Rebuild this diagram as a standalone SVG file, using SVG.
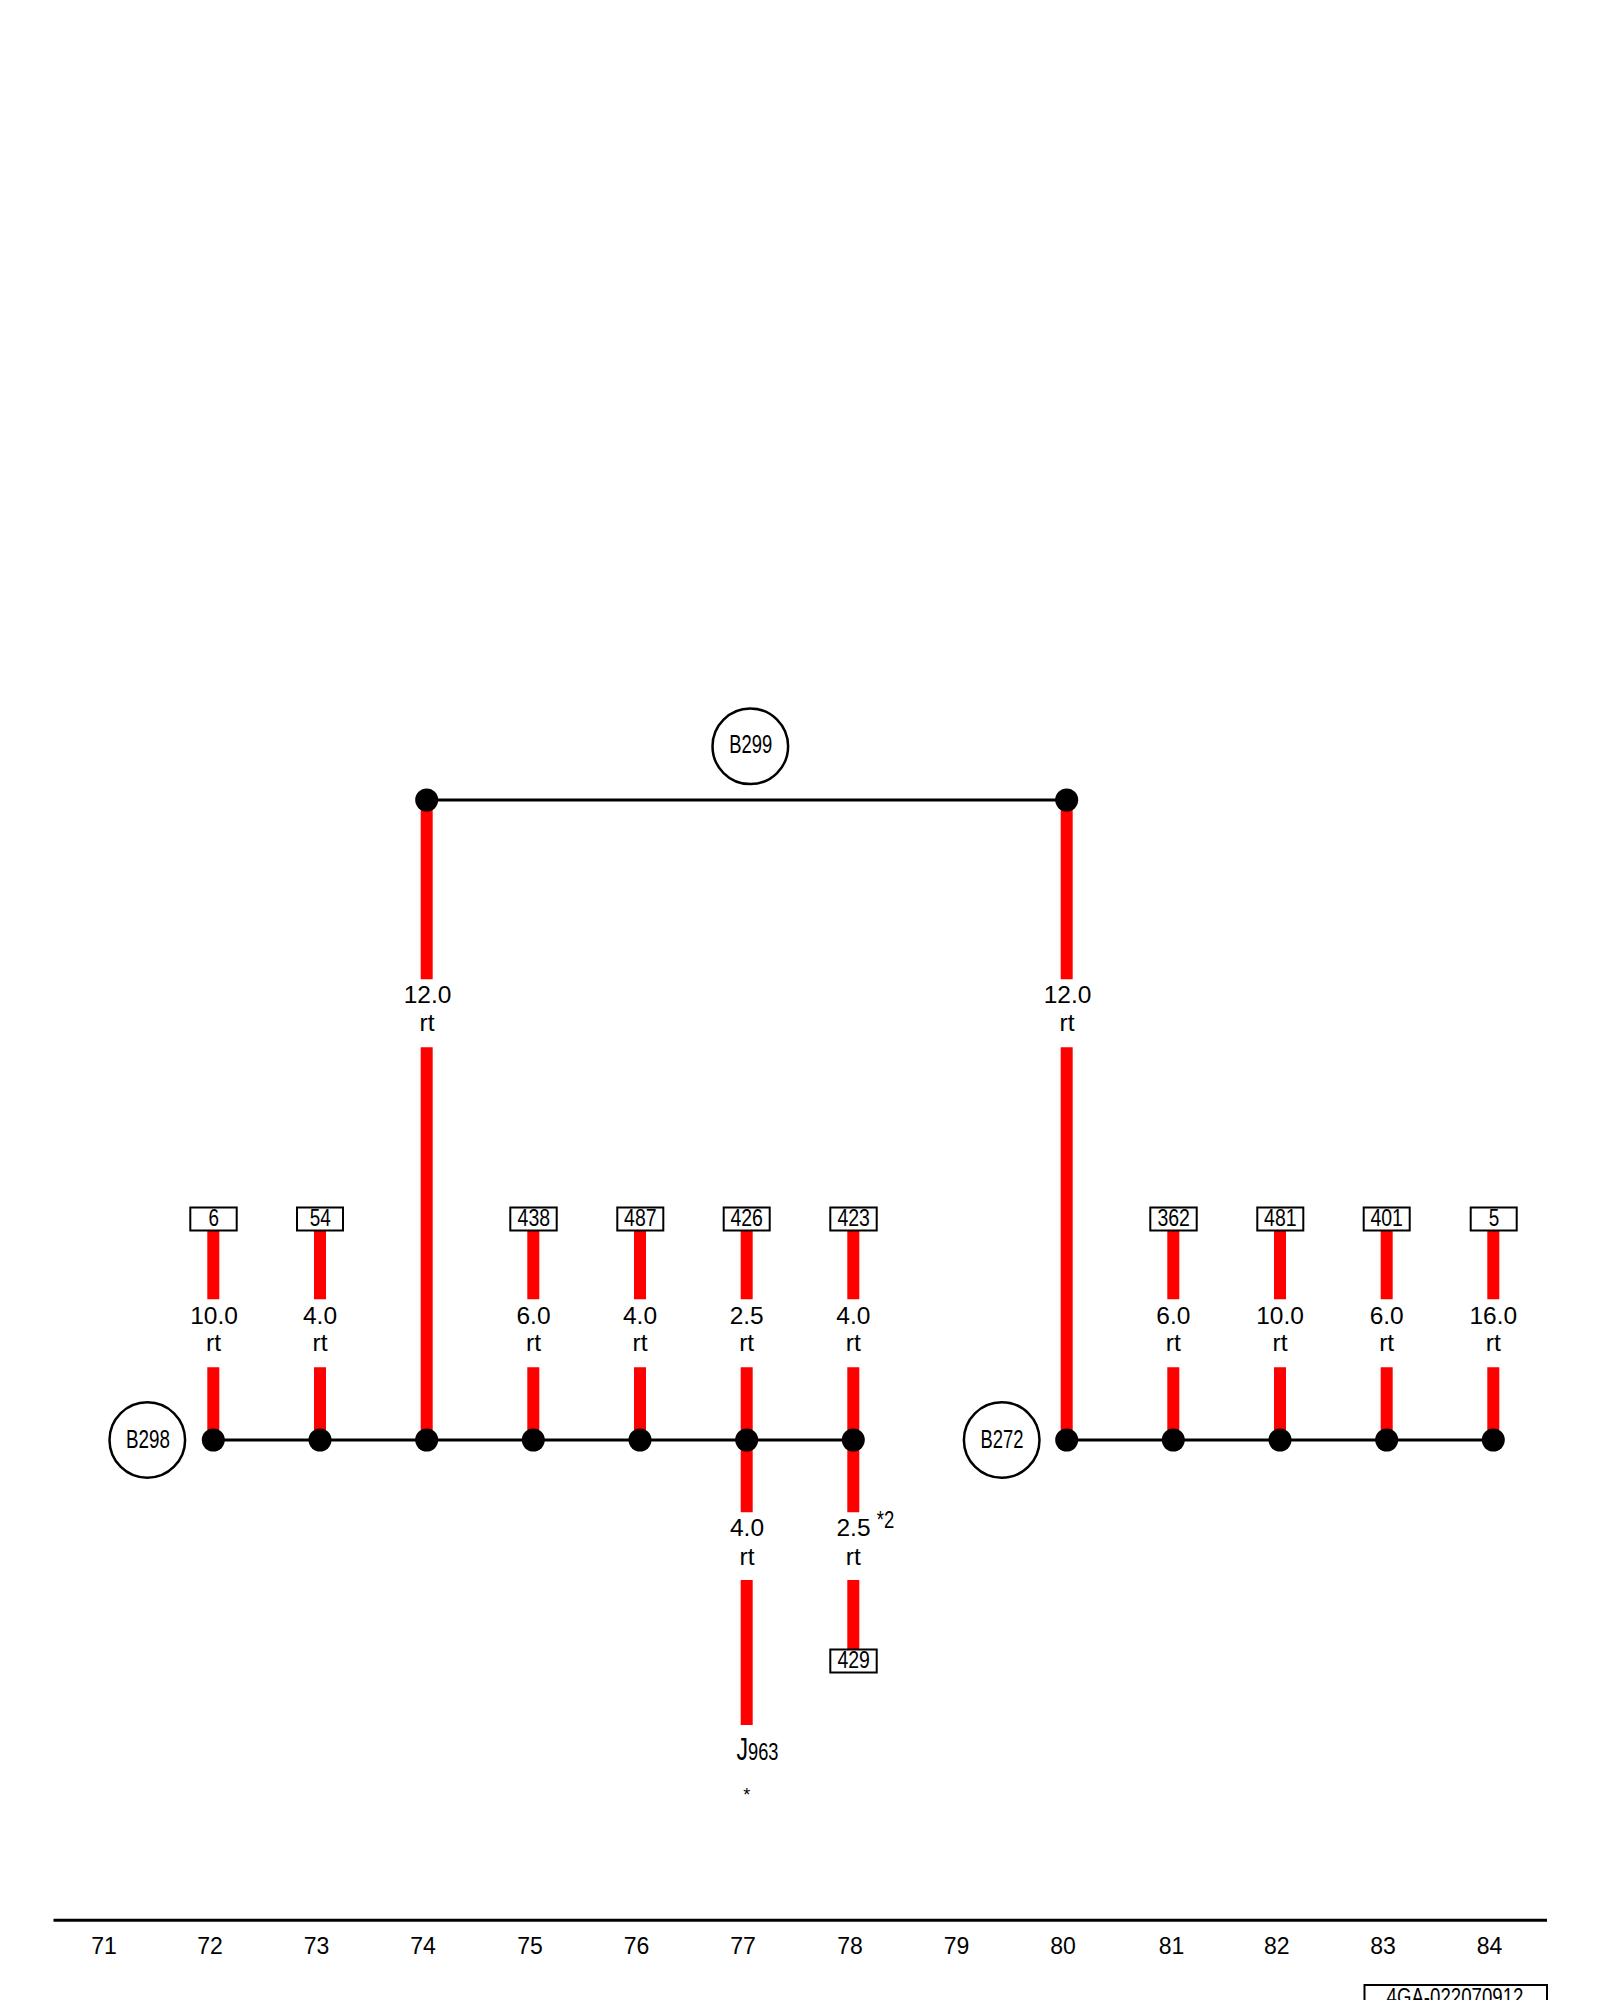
<svg xmlns="http://www.w3.org/2000/svg" width="1600" height="2000" viewBox="0 0 1600 2000">
<style>
text{font-family:"Liberation Sans",Arial,sans-serif;fill:#000;text-anchor:middle}
.w{stroke:#f00;stroke-width:12;fill:none}
.b{stroke:#000;stroke-width:3;fill:none}
.d{fill:#000}
.c{fill:#fff;stroke:#000;stroke-width:2.5}
.r{fill:#fff;stroke:#000;stroke-width:2}
.l{font-size:24.5px}
.t{font-size:23.5px}
.n{font-size:23px}
</style>
<rect width="1600" height="2000" fill="#fff"/>
<g id="connectors">
<path class="w" d="M426.7 800V979.3M426.7 1047.3V1440M1066.7 800V979.3M1066.7 1047.3V1440"/>
<path class="w" d="M213.3 1231V1299.3M213.3 1367.3V1440M320 1231V1299.3M320 1367.3V1440M533.3 1231V1299.3M533.3 1367.3V1440M640 1231V1299.3M640 1367.3V1440M746.7 1231V1299.3M746.7 1367.3V1440M853.3 1231V1299.3M853.3 1367.3V1440"/>
<path class="w" d="M1173.3 1231V1299.3M1173.3 1367.3V1440M1280 1231V1299.3M1280 1367.3V1440M1386.7 1231V1299.3M1386.7 1367.3V1440M1493.3 1231V1299.3M1493.3 1367.3V1440"/>
<path class="w" d="M746.7 1440V1512.3M746.7 1580V1725M853.3 1440V1512.3M853.3 1580V1649"/>
<path class="b" d="M426.7 800H1066.7M213.3 1440H853.3M1066.7 1440H1493.3"/>
<path id="footer-rule" class="b" d="M53.5 1920.3H1547"/>
</g>
<g id="junctions">
<circle class="d" cx="426.7" cy="800" r="11.5"/><circle class="d" cx="1066.7" cy="800" r="11.5"/>
<circle class="d" cx="213.3" cy="1440" r="11.5"/><circle class="d" cx="320" cy="1440" r="11.5"/><circle class="d" cx="426.7" cy="1440" r="11.5"/><circle class="d" cx="533.3" cy="1440" r="11.5"/><circle class="d" cx="640" cy="1440" r="11.5"/><circle class="d" cx="746.7" cy="1440" r="11.5"/><circle class="d" cx="853.3" cy="1440" r="11.5"/>
<circle class="d" cx="1066.7" cy="1440" r="11.5"/><circle class="d" cx="1173.3" cy="1440" r="11.5"/><circle class="d" cx="1280" cy="1440" r="11.5"/><circle class="d" cx="1386.7" cy="1440" r="11.5"/><circle class="d" cx="1493.3" cy="1440" r="11.5"/>
</g>
<g id="B299"><circle class="c" cx="750.3" cy="746.3" r="37.8"/><text x="750.8" y="753.2" font-size="25" textLength="43" lengthAdjust="spacingAndGlyphs">B299</text></g>
<g id="B298"><circle class="c" cx="147.3" cy="1440" r="37.8"/><text x="148" y="1447.7" font-size="25" textLength="44" lengthAdjust="spacingAndGlyphs">B298</text></g>
<g id="B272"><circle class="c" cx="1001.7" cy="1440" r="37.8"/><text x="1002" y="1447.7" font-size="25" textLength="43" lengthAdjust="spacingAndGlyphs">B272</text></g>
<g id="pin-6"><rect class="r" x="190.3" y="1207.5" width="46.4" height="23"/><text class="t" x="213.8" y="1226" textLength="10.5" lengthAdjust="spacingAndGlyphs">6</text></g>
<g id="pin-54"><rect class="r" x="297" y="1207.5" width="46" height="23"/><text class="t" x="320.3" y="1226" textLength="21" lengthAdjust="spacingAndGlyphs">54</text></g>
<g id="pin-438"><rect class="r" x="510.3" y="1207.5" width="46.4" height="23"/><text class="t" x="533.8" y="1226" textLength="32.5" lengthAdjust="spacingAndGlyphs">438</text></g>
<g id="pin-487"><rect class="r" x="617.3" y="1207.5" width="46" height="23"/><text class="t" x="640.3" y="1226" textLength="32.5" lengthAdjust="spacingAndGlyphs">487</text></g>
<g id="pin-426"><rect class="r" x="723.7" y="1207.5" width="46" height="23"/><text class="t" x="746.7" y="1226" textLength="32.5" lengthAdjust="spacingAndGlyphs">426</text></g>
<g id="pin-423"><rect class="r" x="830.3" y="1207.5" width="46.4" height="23"/><text class="t" x="853.7" y="1226" textLength="32.5" lengthAdjust="spacingAndGlyphs">423</text></g>
<g id="pin-362"><rect class="r" x="1150.3" y="1207.5" width="46.4" height="23"/><text class="t" x="1173.7" y="1226" textLength="32.5" lengthAdjust="spacingAndGlyphs">362</text></g>
<g id="pin-481"><rect class="r" x="1257.3" y="1207.5" width="46" height="23"/><text class="t" x="1280.3" y="1226" textLength="32.5" lengthAdjust="spacingAndGlyphs">481</text></g>
<g id="pin-401"><rect class="r" x="1363.7" y="1207.5" width="46" height="23"/><text class="t" x="1386.7" y="1226" textLength="32.5" lengthAdjust="spacingAndGlyphs">401</text></g>
<g id="pin-5"><rect class="r" x="1470.7" y="1207.5" width="46" height="23"/><text class="t" x="1494" y="1226" textLength="10.5" lengthAdjust="spacingAndGlyphs">5</text></g>
<g id="pin-429"><rect class="r" x="830.3" y="1649.5" width="46.4" height="23"/><text class="t" x="853.7" y="1668" textLength="32.5" lengthAdjust="spacingAndGlyphs">429</text></g>
<g id="labels">
<text class="l" x="427.5" y="1002.7">12.0</text><text class="l" x="427" y="1031">rt</text>
<text class="l" x="1067.5" y="1002.7">12.0</text><text class="l" x="1067" y="1031">rt</text>
<text class="l" x="214" y="1323.5">10.0</text><text class="l" x="213.5" y="1351">rt</text>
<text class="l" x="320" y="1323.5">4.0</text><text class="l" x="320" y="1351">rt</text>
<text class="l" x="533.5" y="1323.5">6.0</text><text class="l" x="533.5" y="1351">rt</text>
<text class="l" x="640" y="1323.5">4.0</text><text class="l" x="640" y="1351">rt</text>
<text class="l" x="746.7" y="1323.5">2.5</text><text class="l" x="746.7" y="1351">rt</text>
<text class="l" x="853.3" y="1323.5">4.0</text><text class="l" x="853.3" y="1351">rt</text>
<text class="l" x="1173.3" y="1323.5">6.0</text><text class="l" x="1173.3" y="1351">rt</text>
<text class="l" x="1280" y="1323.5">10.0</text><text class="l" x="1280" y="1351">rt</text>
<text class="l" x="1386.7" y="1323.5">6.0</text><text class="l" x="1386.7" y="1351">rt</text>
<text class="l" x="1493.3" y="1323.5">16.0</text><text class="l" x="1493.3" y="1351">rt</text>
<text class="l" x="747" y="1536">4.0</text><text class="l" x="747" y="1565">rt</text>
<text class="l" x="853.5" y="1536">2.5</text><text class="l" x="853.3" y="1565">rt</text>
<text x="885.6" y="1527.5" font-size="23" textLength="17.5" lengthAdjust="spacingAndGlyphs">*2</text>
<text x="757.5" y="1760" font-size="24.5" textLength="42" lengthAdjust="spacingAndGlyphs"><tspan font-size="31">J</tspan>963</text>
<text x="746.7" y="1801" font-size="18">*</text>
</g>
<g id="footer">
<text class="n" x="104" y="1954">71</text><text class="n" x="210" y="1954">72</text><text class="n" x="316.5" y="1954">73</text><text class="n" x="423" y="1954">74</text><text class="n" x="530" y="1954">75</text><text class="n" x="636.5" y="1954">76</text><text class="n" x="743" y="1954">77</text><text class="n" x="850" y="1954">78</text><text class="n" x="956.5" y="1954">79</text><text class="n" x="1063" y="1954">80</text><text class="n" x="1171.5" y="1954">81</text><text class="n" x="1276.7" y="1954">82</text><text class="n" x="1383" y="1954">83</text><text class="n" x="1489.6" y="1954">84</text>
</g>
<g id="stamp"><rect class="r" x="1364.5" y="1985" width="182.5" height="40"/><text x="1455" y="2005" font-size="23.5" textLength="137" lengthAdjust="spacingAndGlyphs">4GA-022070912</text></g>
</svg>
